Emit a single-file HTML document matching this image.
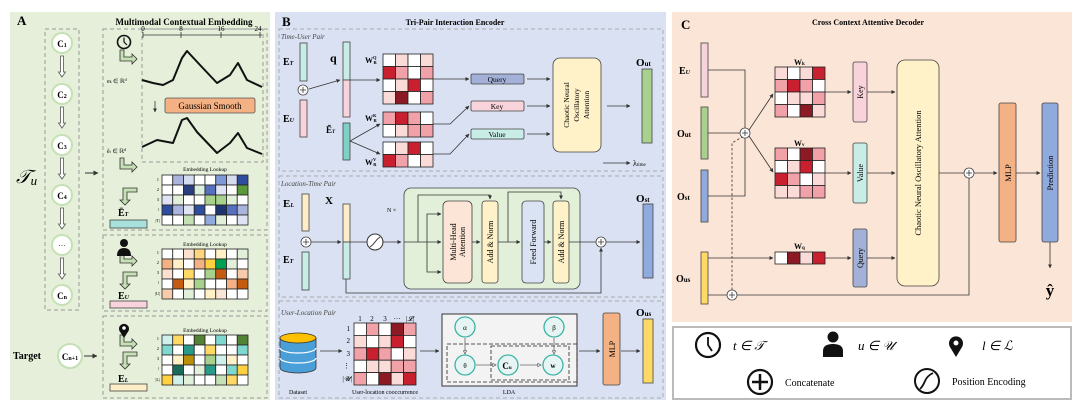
<!DOCTYPE html>
<html><head><meta charset="utf-8"><style>
html,body{margin:0;padding:0;background:#fff;}
svg{display:block;font-family:"Liberation Serif",serif;}
</style></head><body>
<svg id="s" width="1080" height="409" viewBox="0 0 1080 409" xmlns="http://www.w3.org/2000/svg">
<defs>
<marker id="ar" viewBox="0 0 10 10" refX="9" refY="5" markerWidth="5" markerHeight="5" orient="auto"><path d="M0,0 L10,5 L0,10 z" fill="#333"/></marker>
<marker id="oa" viewBox="0 0 10 10" refX="9" refY="5" markerWidth="5" markerHeight="5" orient="auto"><path d="M1,1 L9,5 L1,9 z" fill="#fff" stroke="#444" stroke-width="1.5"/></marker>
</defs>
<rect x="10" y="12" width="260" height="388" fill="#e5efd9"/>
<rect x="275" y="12" width="391" height="388" fill="#dae1f2"/>
<rect x="672" y="12" width="400" height="310" fill="#fbe5d6"/>
<rect x="673" y="327" width="398" height="72" fill="#fff" stroke="#bbb" stroke-width="2"/>

<!-- ============ Panel A ============ -->
<text x="17" y="25" font-weight="bold" font-size="13">A</text>
<text x="184" y="25" font-weight="bold" font-size="9" text-anchor="middle">Multimodal Contextual Embedding</text>
<rect x="45" y="29" width="34" height="281" fill="none" stroke="#999" stroke-dasharray="4,3"/>
<g fill="#fff" stroke="#c5e0b4" stroke-width="2">
<circle cx="62" cy="43" r="10"/><circle cx="62" cy="94" r="10"/><circle cx="62" cy="145" r="10"/><circle cx="62" cy="195" r="10"/><circle cx="62" cy="245" r="10"/><circle cx="62" cy="295" r="10"/><circle cx="70" cy="356" r="12"/>
</g>
<g font-size="9" font-weight="bold" text-anchor="middle">
<text x="62" y="47">C<tspan font-size="6">1</tspan></text>
<text x="62" y="98">C<tspan font-size="6">2</tspan></text>
<text x="62" y="149">C<tspan font-size="6">3</tspan></text>
<text x="62" y="199">C<tspan font-size="6">4</tspan></text>
<text x="62" y="248" font-weight="normal" font-size="7">···</text>
<text x="62" y="299">C<tspan font-size="6">n</tspan></text>
<text x="70" y="360">C<tspan font-size="6">n+1</tspan></text>
</g>
<g fill="#fff" stroke="#555" stroke-width="0.8">
<path d="M60.5,56 h3 v16 h2 l-3.5,5 l-3.5,-5 h2 z"/>
<path d="M60.5,107 h3 v16 h2 l-3.5,5 l-3.5,-5 h2 z"/>
<path d="M60.5,158 h3 v16 h2 l-3.5,5 l-3.5,-5 h2 z"/>
<path d="M60.5,208 h3 v16 h2 l-3.5,5 l-3.5,-5 h2 z"/>
<path d="M60.5,258 h3 v16 h2 l-3.5,5 l-3.5,-5 h2 z"/>
</g>
<text x="16" y="183" font-size="19" font-style="italic">𝒯<tspan font-size="13" dy="2">u</tspan></text>
<line x1="85" y1="173" x2="98" y2="173" stroke="#333" stroke-width="1" marker-end="url(#ar)"/>
<text x="13" y="359" font-size="10" font-weight="bold">Target</text>
<line x1="84" y1="356" x2="97" y2="356" stroke="#333" stroke-width="1" marker-end="url(#ar)"/>

<rect x="103" y="29" width="164" height="201" fill="none" stroke="#999" stroke-dasharray="4,3"/>
<rect x="103" y="235" width="164" height="76" fill="none" stroke="#999" stroke-dasharray="4,3"/>
<rect x="103" y="316" width="164" height="82" fill="none" stroke="#999" stroke-dasharray="4,3"/>
<rect x="142" y="29" width="121" height="133" fill="none" stroke="#999" stroke-dasharray="4,3"/>
<circle cx="124" cy="42" r="6.5" fill="none" stroke="#111" stroke-width="1.6"/>
<path d="M124,37.5 v4.5 l3,3" fill="none" stroke="#111" stroke-width="1.2"/>
<line x1="143" y1="35" x2="262" y2="35" stroke="#333" stroke-width="0.8"/>
<g stroke="#333" stroke-width="0.8"><line x1="143" y1="32" x2="143" y2="38"/><line x1="181" y1="32" x2="181" y2="38"/><line x1="221" y1="32" x2="221" y2="38"/><line x1="260" y1="32" x2="260" y2="38"/></g>
<g font-size="7" text-anchor="middle"><text x="143" y="31">0</text><text x="181" y="31">8</text><text x="221" y="31">16</text><text x="258" y="31">24</text></g>
<polyline points="142,80 153,83 163,85 173,80 182,58 187,51 200,65 217,83 230,75 238,63 247,80 262,87" fill="none" stroke="#111" stroke-width="2" stroke-linejoin="round"/>
<polyline points="142,147 157,140 173,143 182,120 187,118 197,132 217,153 230,143 238,133 247,148 262,154" fill="none" stroke="#111" stroke-width="2" stroke-linejoin="round"/>
<rect x="165" y="98" width="90" height="15" rx="2" fill="#f4b183" stroke="#555" stroke-width="0.8"/>
<text x="210" y="109" font-size="9" text-anchor="middle">Gaussian Smooth</text>
<line x1="155" y1="101" x2="155" y2="112" stroke="#333" stroke-width="0.8" marker-end="url(#ar)"/>
<text x="107" y="83" font-size="6">e<tspan font-size="4">k</tspan> ∈ ℝ<tspan font-size="4" dy="-2">d</tspan></text>
<text x="107" y="153" font-size="6">ẽ<tspan font-size="4">r</tspan> ∈ ℝ<tspan font-size="4" dy="-2">d</tspan></text>
<g fill="#c5e0b4" stroke="#333" stroke-width="0.8">
<path d="M120,50 h4 v7 h8 v-3 l5,5 l-5,5 v-3 h-12 z"/>
<path d="M120,158 h4 v7 h8 v-3 l5,5 l-5,5 v-3 h-12 z"/>
<path d="M120,252 h4 v7 h8 v-3 l5,5 l-5,5 v-3 h-12 z"/>
<path d="M120,335 h4 v7 h8 v-3 l5,5 l-5,5 v-3 h-12 z"/>
<path d="M137,188 v4 h-10 v8 h3 l-5,5 l-5,-5 h3 v-12 z"/>
<path d="M137,272 v4 h-10 v8 h3 l-5,5 l-5,-5 h3 v-12 z"/>
<path d="M137,352 v4 h-10 v8 h3 l-5,5 l-5,-5 h3 v-12 z"/>
</g>
<circle cx="124" cy="243" r="4" fill="#111"/><path d="M117,256 q0,-8 7,-8 q7,0 7,8 z" fill="#111"/>
<path d="M124,338 l-4.5,-7 a5,5 0 1 1 9,0 z" fill="#111"/><circle cx="124" cy="328" r="1.8" fill="#fff"/>
<g font-size="5.5" text-anchor="middle"><text x="205" y="171">Embedding Lookup</text><text x="205" y="246">Embedding Lookup</text><text x="205" y="332">Embedding Lookup</text></g>
<g font-size="4.5" text-anchor="end">
<text x="159" y="181">1</text><text x="159" y="191">2</text><text x="159" y="201">3</text><text x="159" y="211">⁝</text><text x="160" y="222">|T|</text>
<text x="159" y="254">1</text><text x="159" y="264">2</text><text x="159" y="274">3</text><text x="159" y="284">⁝</text><text x="160" y="295">|U|</text>
<text x="159" y="340">1</text><text x="159" y="350">2</text><text x="159" y="360">3</text><text x="159" y="370">⁝</text><text x="160" y="381">|L|</text>
</g>
<g id="gA"></g>
<text x="118" y="216" font-size="10" font-weight="bold">Ē<tspan font-size="6" font-style="italic">T</tspan></text>
<rect x="110" y="220" width="37" height="8" fill="#a8e0dc" stroke="#444" stroke-width="0.8"/>
<text x="118" y="299" font-size="10" font-weight="bold">E<tspan font-size="6" font-style="italic">U</tspan></text>
<rect x="110" y="301" width="37" height="7" fill="#f8d3dc" stroke="#444" stroke-width="0.8"/>
<text x="118" y="382" font-size="10" font-weight="bold">E<tspan font-size="6" font-style="italic">L</tspan></text>
<rect x="110" y="384" width="37" height="7" fill="#fdeec8" stroke="#444" stroke-width="0.8"/>

<!-- ============ Panel B ============ -->
<text x="282" y="26" font-weight="bold" font-size="13">B</text>
<text x="455" y="25" font-weight="bold" font-size="8" text-anchor="middle">Tri-Pair Interaction Encoder</text>
<rect x="279" y="29" width="384" height="142" fill="none" stroke="#aaa" stroke-dasharray="4,3"/>
<rect x="279" y="176" width="384" height="121" fill="none" stroke="#aaa" stroke-dasharray="4,3"/>
<rect x="279" y="301" width="384" height="97" fill="none" stroke="#aaa" stroke-dasharray="4,3"/>
<g font-size="7" font-style="italic" fill="#444"><text x="281" y="39">Time-User Pair</text><text x="281" y="186">Location-Time Pair</text><text x="281" y="315">User-Location Pair</text></g>
<rect x="300" y="43" width="7" height="38" fill="#c8ece6" stroke="#444" stroke-width="0.8"/>
<rect x="300" y="100" width="7" height="37" fill="#f8d3dc" stroke="#444" stroke-width="0.8"/>
<text x="283" y="65" font-size="10" font-weight="bold">E<tspan font-size="6" font-style="italic">T</tspan></text>
<text x="283" y="122" font-size="10" font-weight="bold">E<tspan font-size="6" font-style="italic">U</tspan></text>
<circle cx="303" cy="90" r="5" fill="#fff" stroke="#444" stroke-width="0.8"/><path d="M300,90 h6 M303,87 v6" stroke="#333" stroke-width="0.8"/>
<line x1="309" y1="89" x2="340" y2="80" stroke="#333" stroke-width="0.8" marker-end="url(#ar)"/>
<rect x="343" y="42" width="7" height="38" fill="#c8ece6" stroke="#444" stroke-width="0.8"/>
<rect x="343" y="80" width="7" height="37" fill="#f8d3dc" stroke="#444" stroke-width="0.8"/>
<text x="330" y="62" font-size="12" font-weight="bold">q</text>
<rect x="343" y="123" width="7" height="37" fill="#7fd1c7" stroke="#444" stroke-width="0.8"/>
<text x="326" y="133" font-size="9" font-weight="bold">Ẽ<tspan font-size="5" font-style="italic">T</tspan></text>
<line x1="350" y1="80" x2="380" y2="80" stroke="#333" stroke-width="0.8" marker-end="url(#ar)"/>
<line x1="350" y1="141" x2="380" y2="124" stroke="#333" stroke-width="0.8" marker-end="url(#ar)"/>
<line x1="350" y1="141" x2="380" y2="154" stroke="#333" stroke-width="0.8" marker-end="url(#ar)"/>
<g font-size="8" font-weight="bold"><text x="365" y="63">W<tspan font-size="4.5" dy="-4">Q</tspan><tspan font-size="4.5" dy="5" dx="-3">R</tspan></text>
<text x="365" y="121">W<tspan font-size="4.5" dy="-4">K</tspan><tspan font-size="4.5" dy="5" dx="-3">R</tspan></text>
<text x="365" y="165">W<tspan font-size="4.5" dy="-4">V</tspan><tspan font-size="4.5" dy="5" dx="-3">R</tspan></text></g>
<g id="gB"></g>
<line x1="433" y1="79" x2="469" y2="79" stroke="#333" stroke-width="0.8" marker-end="url(#ar)"/>
<polyline points="433,124 450,124 469,106" fill="none" stroke="#333" stroke-width="0.8" marker-end="url(#ar)"/>
<polyline points="433,154 450,154 469,134" fill="none" stroke="#333" stroke-width="0.8" marker-end="url(#ar)"/>
<rect x="471" y="74" width="53" height="10" rx="1.5" fill="#a3b1d8" stroke="#444" stroke-width="0.8"/>
<rect x="471" y="101" width="53" height="10" rx="1.5" fill="#f8d3dc" stroke="#444" stroke-width="0.8"/>
<rect x="471" y="129" width="53" height="10" rx="1.5" fill="#c8ece6" stroke="#444" stroke-width="0.8"/>
<g font-size="7.5" text-anchor="middle"><text x="497" y="82">Query</text><text x="497" y="109">Key</text><text x="497" y="137">Value</text></g>
<g stroke="#333" stroke-width="0.8" marker-end="url(#ar)"><line x1="527" y1="79" x2="550" y2="79"/><line x1="527" y1="106" x2="550" y2="106"/><line x1="527" y1="134" x2="550" y2="134"/><line x1="607" y1="106" x2="630" y2="106"/><line x1="603" y1="163" x2="630" y2="163"/></g>
<rect x="553" y="58" width="48" height="94" rx="7" fill="#fff2c8" stroke="#444" stroke-width="0.8"/>
<g font-size="7.5" text-anchor="middle"><text transform="translate(569,105) rotate(-90)">Chaotic Neural</text><text transform="translate(579,105) rotate(-90)">Oscillatory</text><text transform="translate(589,105) rotate(-90)">Attention</text></g>
<rect x="642" y="69" width="10" height="74" fill="#a9d18e" stroke="#444" stroke-width="0.8"/>
<text x="636" y="66" font-size="11" font-weight="bold">O<tspan font-size="7">ut</tspan></text>
<text x="633" y="166" font-size="8">λ<tspan font-size="5">time</tspan></text>
<rect x="302" y="194" width="7" height="37" fill="#fdeec8" stroke="#444" stroke-width="0.8"/>
<rect x="302" y="252" width="7" height="38" fill="#c8ece6" stroke="#444" stroke-width="0.8"/>
<text x="283" y="207" font-size="11" font-weight="bold">E<tspan font-size="6" font-style="italic">L</tspan></text>
<text x="283" y="263" font-size="10" font-weight="bold">E<tspan font-size="6" font-style="italic">T</tspan></text>
<circle cx="306" cy="242" r="5" fill="#fff" stroke="#444" stroke-width="0.8"/><path d="M303,242 h6 M306,239 v6" stroke="#333" stroke-width="0.8"/>
<line x1="311" y1="242" x2="341" y2="242" stroke="#333" stroke-width="0.8" marker-end="url(#ar)"/>
<text x="325" y="204" font-size="11" font-weight="bold">X</text>
<rect x="343" y="204" width="7" height="38" fill="#fdeec8" stroke="#444" stroke-width="0.8"/>
<rect x="343" y="242" width="7" height="37" fill="#c8ece6" stroke="#444" stroke-width="0.8"/>
<line x1="350" y1="242" x2="367" y2="242" stroke="#333" stroke-width="0.8"/>
<circle cx="375" cy="242" r="8" fill="#fff" stroke="#333" stroke-width="1"/>
<path d="M370,247 q3,-2 5,-5 q2,-3 5,-5" fill="none" stroke="#333" stroke-width="1"/>
<line x1="383" y1="242" x2="401" y2="242" stroke="#333" stroke-width="0.8" marker-end="url(#ar)"/>
<text x="387" y="212" font-size="6">N ×</text>
<rect x="404" y="188" width="176" height="101" rx="7" fill="#e2efd9" stroke="#444" stroke-width="0.8"/>
<g stroke="#333" stroke-width="0.8" fill="none">
<line x1="404" y1="242" x2="441" y2="242" marker-end="url(#ar)"/>
<polyline points="418,242 418,195 490,195 490,199" marker-end="url(#ar)"/>
<polyline points="427,242 427,214 441,214" marker-end="url(#ar)"/>
<polyline points="427,242 427,272 441,272" marker-end="url(#ar)"/>
<line x1="472" y1="242" x2="480" y2="242" marker-end="url(#ar)"/>
<line x1="498" y1="242" x2="520" y2="242" marker-end="url(#ar)"/>
<polyline points="508,242 508,192 561,192 561,199" marker-end="url(#ar)"/>
<line x1="544" y1="242" x2="551" y2="242" marker-end="url(#ar)"/>
<line x1="569" y1="242" x2="596" y2="242"/>
<line x1="606" y1="242" x2="640" y2="242" marker-end="url(#ar)"/>
<polyline points="346,279 346,293 601,293 601,248" marker-end="url(#ar)"/>
</g>
<rect x="443" y="201" width="29" height="82" rx="5" fill="#fce4d6" stroke="#444" stroke-width="0.8"/>
<rect x="482" y="201" width="16" height="82" rx="3" fill="#fff2c8" stroke="#444" stroke-width="0.8"/>
<rect x="522" y="201" width="22" height="82" rx="4" fill="#dae3f3" stroke="#444" stroke-width="0.8"/>
<rect x="553" y="201" width="16" height="82" rx="3" fill="#fff2c8" stroke="#444" stroke-width="0.8"/>
<g font-size="8" text-anchor="middle"><text transform="translate(456,242) rotate(-90)">Multi-Head</text><text transform="translate(465,242) rotate(-90)">Attention</text><text transform="translate(493,242) rotate(-90)">Add &amp; Norm</text><text transform="translate(536,242) rotate(-90)">Feed Forward</text><text transform="translate(564,242) rotate(-90)">Add &amp; Norm</text></g>
<circle cx="601" cy="242" r="5" fill="#fff" stroke="#444" stroke-width="0.8"/><path d="M598,242 h6 M601,239 v6" stroke="#333" stroke-width="0.8"/>
<rect x="643" y="204" width="10" height="74" fill="#8faadc" stroke="#444" stroke-width="0.8"/>
<text x="636" y="202" font-size="11" font-weight="bold">O<tspan font-size="7">st</tspan></text>
<g stroke="#333" stroke-width="0.8">
<path d="M280,338 v30 a18,5 0 0 0 36,0 v-30" fill="#4a9fd8"/>
<path d="M280,348 a18,5 0 0 0 36,0 M280,358 a18,5 0 0 0 36,0" fill="none" stroke="#fff" stroke-width="1.2"/>
<ellipse cx="298" cy="338" rx="18" ry="5" fill="#ffc000"/>
</g>
<text x="298" y="394" font-size="6" text-anchor="middle">Dataset</text>
<line x1="320" y1="351" x2="342" y2="351" stroke="#333" stroke-width="0.8" marker-end="url(#ar)"/>
<g font-size="7" text-anchor="middle"><text x="360" y="321">1</text><text x="372" y="321">2</text><text x="385" y="321">3</text><text x="397" y="321">···</text><text x="410" y="321" font-style="italic">|𝓛|</text></g>
<g font-size="7" text-anchor="end"><text x="350" y="331">1</text><text x="350" y="343">2</text><text x="350" y="356">3</text><text x="350" y="368">⋮</text><text x="352" y="381" font-style="italic">|𝓤|</text></g>
<g id="gC"></g>
<text x="385" y="394" font-size="6" text-anchor="middle">User-location cooccurrence</text>
<line x1="420" y1="351" x2="439" y2="351" stroke="#333" stroke-width="0.8" marker-end="url(#ar)"/>
<rect x="442" y="314" width="135" height="72" fill="#f3f3f3" stroke="#333" stroke-width="1"/>
<rect x="447" y="344" width="130" height="38" fill="none" stroke="#222" stroke-width="0.8" stroke-dasharray="4,2"/>
<rect x="491" y="346" width="78" height="34" fill="none" stroke="#222" stroke-width="0.8" stroke-dasharray="4,2"/>
<g stroke="#666" stroke-width="0.8" fill="none">
<line x1="465" y1="338" x2="465" y2="354" marker-end="url(#oa)"/>
<line x1="554" y1="338" x2="554" y2="354" marker-end="url(#oa)"/>
<line x1="476" y1="365" x2="496" y2="365" marker-end="url(#oa)"/>
<line x1="520" y1="365" x2="541" y2="365" marker-end="url(#oa)"/>
</g>
<g fill="#e6f5f3" stroke="#3bb3a3" stroke-width="1.3">
<circle cx="465" cy="327" r="10"/><circle cx="554" cy="327" r="10"/><circle cx="465" cy="365" r="10"/><circle cx="508" cy="365" r="10"/><circle cx="553" cy="365" r="10"/>
</g>
<g font-size="7" text-anchor="middle"><text x="465" y="330">α</text><text x="554" y="330">β</text><text x="465" y="368">θ</text><text x="507" y="369" font-size="9" font-weight="bold">C<tspan font-size="5">u</tspan></text><text x="553" y="368" font-weight="bold">w</text></g>
<text x="509" y="394" font-size="6" text-anchor="middle">LDA</text>
<line x1="579" y1="351" x2="600" y2="351" stroke="#333" stroke-width="0.8" marker-end="url(#ar)"/>
<rect x="603" y="313" width="17" height="72" rx="2" fill="#f4b183" stroke="#444" stroke-width="0.8"/>
<text transform="translate(615,349) rotate(-90)" font-size="8" text-anchor="middle">MLP</text>
<line x1="621" y1="351" x2="640" y2="351" stroke="#333" stroke-width="0.8" marker-end="url(#ar)"/>
<rect x="643" y="319" width="10" height="64" fill="#ffd966" stroke="#444" stroke-width="0.8"/>
<text x="636" y="316" font-size="11" font-weight="bold">O<tspan font-size="7">us</tspan></text>

<!-- ============ Panel C ============ -->
<text x="681" y="29" font-weight="bold" font-size="13">C</text>
<text x="868" y="25" font-weight="bold" font-size="8" text-anchor="middle">Cross Context Attentive Decoder</text>
<rect x="701" y="43" width="7" height="54" fill="#f8d3dc" stroke="#444" stroke-width="0.8"/>
<rect x="701" y="107" width="7" height="52" fill="#a9d18e" stroke="#444" stroke-width="0.8"/>
<rect x="701" y="170" width="7" height="52" fill="#8faadc" stroke="#444" stroke-width="0.8"/>
<rect x="701" y="252" width="7" height="52" fill="#ffd966" stroke="#444" stroke-width="0.8"/>
<g font-size="10" font-weight="bold"><text x="679" y="74">E<tspan font-size="6" font-style="italic">U</tspan></text><text x="677" y="137">O<tspan font-size="7">ut</tspan></text><text x="677" y="200">O<tspan font-size="7">st</tspan></text><text x="676" y="282">O<tspan font-size="7">us</tspan></text></g>
<g stroke="#333" stroke-width="0.8" fill="none">
<polyline points="708,70 745,70 745,128"/>
<line x1="708" y1="133" x2="740" y2="133"/>
<polyline points="708,196 745,196 745,138"/>
<line x1="749" y1="130" x2="773" y2="94" marker-end="url(#ar)"/>
<line x1="749" y1="136" x2="773" y2="172" marker-end="url(#ar)"/>
<line x1="708" y1="258" x2="773" y2="258" marker-end="url(#ar)"/>
<line x1="708" y1="295" x2="727" y2="295"/>
<polyline points="737,295 969,295 969,178"/>
<polyline points="732,290 732,143 742,137" stroke-dasharray="2.5,2"/>
<line x1="825" y1="92" x2="851" y2="92" marker-end="url(#ar)"/>
<line x1="825" y1="173" x2="851" y2="173" marker-end="url(#ar)"/>
<line x1="825" y1="258" x2="851" y2="258" marker-end="url(#ar)"/>
<line x1="867" y1="92" x2="895" y2="92" marker-end="url(#ar)"/>
<line x1="867" y1="173" x2="895" y2="173" marker-end="url(#ar)"/>
<line x1="867" y1="258" x2="895" y2="258" marker-end="url(#ar)"/>
<line x1="939" y1="173" x2="964" y2="173"/>
<line x1="974" y1="173" x2="997" y2="173" marker-end="url(#ar)"/>
<line x1="1016" y1="173" x2="1040" y2="173" marker-end="url(#ar)"/>
<line x1="1050" y1="242" x2="1050" y2="268" marker-end="url(#ar)"/>
</g>
<circle cx="745" cy="133" r="5" fill="#fff" stroke="#444" stroke-width="0.8"/><path d="M742,133 h6 M745,130 v6" stroke="#333" stroke-width="0.8"/>
<circle cx="732" cy="295" r="5" fill="#fff" stroke="#444" stroke-width="0.8"/><path d="M729,295 h6 M732,292 v6" stroke="#333" stroke-width="0.8"/>
<circle cx="969" cy="173" r="5" fill="#fff" stroke="#444" stroke-width="0.8"/><path d="M966,173 h6 M969,170 v6" stroke="#333" stroke-width="0.8"/>
<g font-size="8" font-weight="bold"><text x="794" y="65">W<tspan font-size="5">k</tspan></text><text x="794" y="146">W<tspan font-size="5">v</tspan></text><text x="794" y="249">W<tspan font-size="5">q</tspan></text></g>
<g id="gD"></g>
<rect x="853" y="62" width="14" height="60" rx="2" fill="#f8d3dc" stroke="#444" stroke-width="0.8"/>
<rect x="853" y="143" width="14" height="60" rx="2" fill="#c8ece6" stroke="#444" stroke-width="0.8"/>
<rect x="853" y="229" width="14" height="58" rx="2" fill="#a3b1d8" stroke="#444" stroke-width="0.8"/>
<g font-size="8" text-anchor="middle"><text transform="translate(863,92) rotate(-90)">Key</text><text transform="translate(863,173) rotate(-90)">Value</text><text transform="translate(863,258) rotate(-90)">Query</text></g>
<rect x="897" y="60" width="42" height="226" rx="8" fill="#fff2c8" stroke="#444" stroke-width="0.8"/>
<text transform="translate(921,173) rotate(-90)" font-size="8.5" text-anchor="middle">Chaotic Neural Oscillatory Attention</text>
<rect x="999" y="103" width="17" height="139" rx="2" fill="#f4b183" stroke="#444" stroke-width="0.8"/>
<rect x="1042" y="103" width="16" height="139" rx="2" fill="#8faadc" stroke="#444" stroke-width="0.8"/>
<g font-size="8.5" text-anchor="middle"><text transform="translate(1011,173) rotate(-90)">MLP</text><text transform="translate(1053,173) rotate(-90)">Prediction</text></g>
<text x="1050" y="296" font-size="17" font-weight="bold" text-anchor="middle">ŷ</text>

<circle cx="708" cy="345" r="12" fill="none" stroke="#111" stroke-width="2.2"/><path d="M708,337 v8 l4,6" fill="none" stroke="#111" stroke-width="1.8"/>
<text x="733" y="350" font-size="13" font-style="italic">t ∈ 𝒯</text>
<circle cx="833" cy="337" r="5.5" fill="#111"/><path d="M823,357 v-6 q0,-7 10,-7 q10,0 10,7 v6 z" fill="#111"/>
<text x="858" y="350" font-size="13" font-style="italic">u ∈ 𝒰</text>
<path d="M956,357 l-6,-10 a7,7 0 1 1 12,0 z" fill="#111"/><circle cx="956" cy="343" r="2.5" fill="#fff"/>
<text x="982" y="350" font-size="13" font-style="italic">l ∈ ℒ</text>
<circle cx="760" cy="382" r="12" fill="none" stroke="#111" stroke-width="2.2"/><path d="M752,382 h16 M760,374 v16" stroke="#111" stroke-width="2.5"/>
<text x="785" y="386" font-size="10">Concatenate</text>
<circle cx="927" cy="381" r="12" fill="none" stroke="#111" stroke-width="2"/><path d="M920,389 q3,-3 5,-8 q2,-5 8,-8" fill="none" stroke="#111" stroke-width="1.8"/>
<text x="952" y="385" font-size="10">Position Encoding</text>
</svg>
<script>
var NS="http://www.w3.org/2000/svg";
function grid(id,x,y,cw,ch,rows){var g=document.getElementById(id);
rows.forEach(function(r,i){r.forEach(function(c,j){var e=document.createElementNS(NS,"rect");
e.setAttribute("x",x+j*cw);e.setAttribute("y",y+i*ch);e.setAttribute("width",cw);e.setAttribute("height",ch);
e.setAttribute("fill",c);e.setAttribute("stroke","#222");e.setAttribute("stroke-width","0.8");g.appendChild(e);});});}
var w="#ffffff",L="#fadbd8",M="#f1a1a8",R="#c8202f",D="#8b1a24";
grid("gA",162,175,10.75,10,[
[w,"#aab4dc","#d6dcf0",w,w,"#7f98d8","#d6dcf0","#2e4d9c"],
[w,w,"#2b3f80","#dceedd","#5670c0","#dfe3f3",w,"#5a9a3a"],
["#dfe3f3","#e2efd9",w,w,"#a9d18e","#a9d18e","#e2efd9",w],
["#2e4d9c","#aab4dc","#dfe3f3","#2e4d9c",w,"#1f3370","#5670c0","#aab4dc"],
[w,w,"#c5e0b4",w,"#8faadc","#e2efd9",w,"#dfe3f3"]]);
grid("gA",162,249,10.75,10,[
[w,w,"#fbe0d0","#ffd580",w,"#fff0c8",w,"#e2efd9"],
["#f4b183","#fff0c8",w,"#f4b183","#ffd040","#00a050","#e2efd9",w],
["#fbe0d0",w,"#ffd966",w,"#a9d18e","#c55a11",w,"#f8cbad"],
[w,"#c55a11","#fff0c8","#a9d18e",w,w,"#f4b183","#c55a11"],
["#f8cbad",w,"#e2efd9",w,"#fff0c8","#fbe5d6",w,w]]);
grid("gA",162,335,10.75,10,[
["#d0f0ee","#ffd966",w,"#548235",w,"#7fd8d0",w,"#548235"],
["#7fd8d0",w,"#2a9a8a",w,"#ffd966",w,w,"#7fd8d0"],
[w,"#fff0c8","#b8900a",w,"#a9d18e","#d0f0ee","#fff0c8",w],
[w,"#1a6a5a",w,"#e2efd9","#2a9a8a",w,"#7fd8d0","#ffd040"],
["#ffd040","#d0f0ee","#e2efd9",w,w,"#c5e0b4","#ffd966",w]]);
grid("gB",383,54,12.5,12.5,[[w,L,w,L],[R,M,w,M],[w,L,R,w],[L,D,w,M]]);
grid("gB",383,112,12.5,12.5,[[M,R,M,w],[w,L,M,M]]);
grid("gB",383,142,12.5,12.5,[[w,L,R,w],[R,M,w,L]]);
grid("gC",354,323,12.4,12.4,[[w,M,w,D,M],[L,w,L,R,w],[M,R,M,w,L],[w,L,L,M,M],[M,w,D,L,R]]);
grid("gD",775,67,12.5,12.5,[[L,w,L,R],[M,R,M,w],[w,L,L,M],[M,w,D,L]]);
grid("gD",775,148,12.5,12.5,[[M,w,D,M],[w,L,R,w],[R,M,w,L],[L,L,M,M]]);
grid("gD",775,252,12.5,12,[[w,D,L,R]]);
</script>
</body></html>
